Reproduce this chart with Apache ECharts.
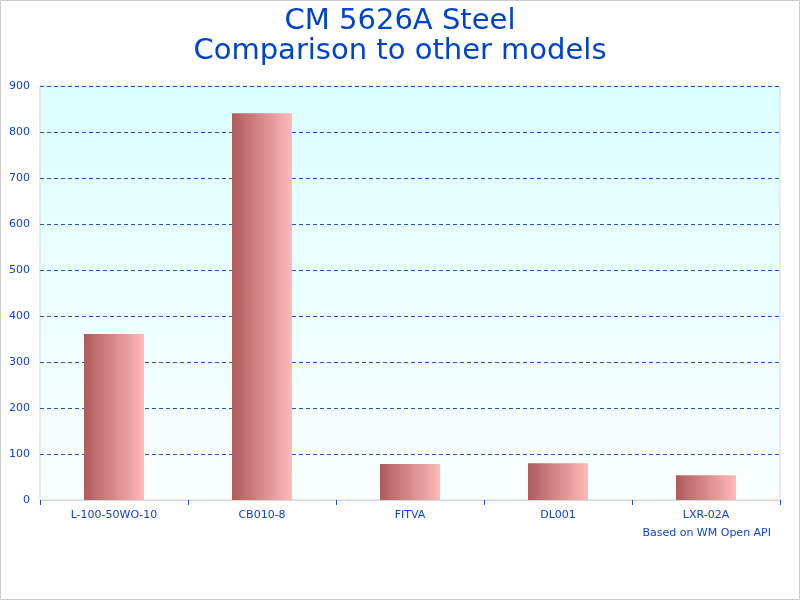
<!DOCTYPE html>
<html><head><meta charset="utf-8">
<script src="https://cdn.jsdelivr.net/npm/echarts@6/dist/echarts.min.js"></script>
<style>html,body{margin:0;padding:0;background:#fff}#c{width:800px;height:600px}</style>
</head><body><div id="c"></div>
<script>
const categories = ['L-100-50WO-10', 'CB010-8', 'FITVA', 'DL001', 'LXR-02A'];
const values = [361, 841, 78, 80, 54];
const yTicks = [0, 100, 200, 300, 400, 500, 600, 700, 800, 900];

const chart = echarts.init(document.getElementById('c'), null, {renderer: 'canvas'});
const blue = '#1144cc';
chart.setOption({
  backgroundColor: '#fff',
  animation: false,
  title: [{
    text: 'CM 5626A Steel\nComparison to other models',
    left: 'center', top: 1,
    textStyle: {fontFamily: 'DejaVu Sans', fontSize: 29, fontWeight: 'normal', color: '#0044cc', lineHeight: 30}
  }, {
    text: 'Based on WM Open API',
    right: 24, top: 523,
    textStyle: {fontFamily: 'DejaVu Sans', fontSize: 11, fontWeight: 'normal', color: blue}
  }],
  graphic: [{
    type: 'rect', shape: {x: 0.5, y: 0.5, width: 799, height: 599},
    style: {fill: 'none', stroke: '#cccccc', lineWidth: 1}, z: -1
  }],
  grid: {
    left: 40, right: 20, top: 86, bottom: 100, show: true,
    borderColor: '#d8d8d8', borderWidth: 1,
    backgroundColor: new echarts.graphic.LinearGradient(0, 0, 0, 1, [
      {offset: 0, color: '#dcffff'}, {offset: 1, color: '#fafefe'}
    ])
  },
  xAxis: {
    type: 'category', data: categories,
    axisLine: {show: true, lineStyle: {color: '#d8d8d8'}},
    axisTick: {show: true, length: 5, lineStyle: {color: '#1155cc'}},
    axisLabel: {color: blue, fontFamily: 'DejaVu Sans', fontSize: 11, margin: 10}
  },
  yAxis: {
    type: 'value', min: yTicks[0], max: yTicks[yTicks.length - 1], interval: 100,
    axisLine: {show: false}, axisTick: {show: false},
    axisLabel: {color: blue, fontFamily: 'DejaVu Sans', fontSize: 11, margin: 10},
    splitLine: {show: true, lineStyle: {color: '#2255cc', type: [4, 3], width: 1}}
  },
  series: [{
    type: 'bar', data: values, barWidth: 60,
    itemStyle: {
      color: new echarts.graphic.LinearGradient(0, 0, 1, 0, [
        {offset: 0, color: '#b05a5a'}, {offset: 1, color: '#ffbaba'}
      ])
    }
  }]
});
</script></body></html>
